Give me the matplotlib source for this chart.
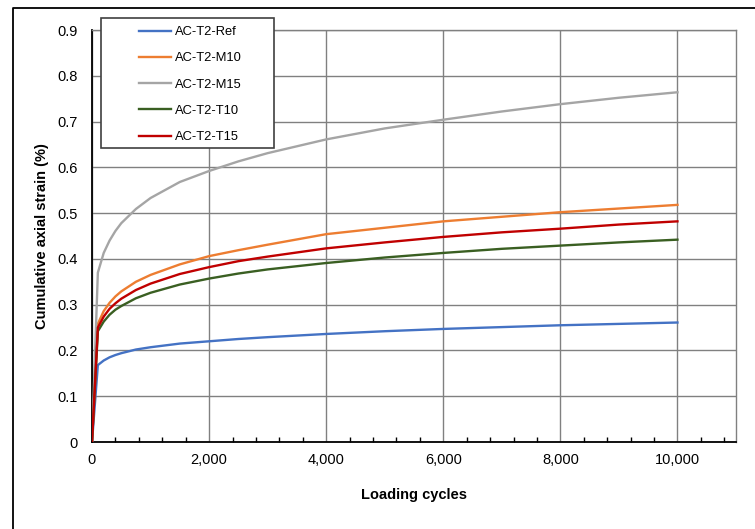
import matplotlib
matplotlib.use("Agg")
import matplotlib.pyplot as plt
from matplotlib.lines import Line2D
from matplotlib.patches import Rectangle
from matplotlib.ticker import MultipleLocator, FuncFormatter

plt.rcParams['font.family'] = ['Liberation Sans', 'DejaVu Sans']

cycles = [0, 100, 200, 300, 400, 500, 750, 1000, 1500, 2000, 2500, 3000, 4000,
          5000, 6000, 7000, 8000, 9000, 10000]

ref = [0, 0.168, 0.178, 0.185, 0.190, 0.194, 0.202, 0.207, 0.215, 0.220, 0.225,
       0.229, 0.236, 0.242, 0.247, 0.251, 0.255, 0.258, 0.261]
m10 = [0, 0.258, 0.286, 0.304, 0.318, 0.329, 0.350, 0.365, 0.388, 0.406, 0.419,
       0.431, 0.454, 0.468, 0.482, 0.492, 0.502, 0.510, 0.518]
m15 = [0, 0.370, 0.413, 0.440, 0.461, 0.478, 0.509, 0.533, 0.568, 0.592, 0.613,
       0.631, 0.661, 0.685, 0.704, 0.722, 0.738, 0.752, 0.764]
t10 = [0, 0.242, 0.263, 0.278, 0.289, 0.297, 0.314, 0.326, 0.344, 0.357, 0.368,
       0.377, 0.391, 0.403, 0.413, 0.422, 0.429, 0.436, 0.442]
t15 = [0, 0.250, 0.274, 0.291, 0.303, 0.313, 0.332, 0.346, 0.367, 0.382, 0.395,
       0.405, 0.423, 0.436, 0.448, 0.458, 0.466, 0.475, 0.482]

labels = ['AC-T2-Ref', 'AC-T2-M10', 'AC-T2-M15', 'AC-T2-T10', 'AC-T2-T15']
colors = ['#4472C4', '#ED7D31', '#A5A5A5', '#3A5F22', '#C00000']
series = [ref, m10, m15, t10, t15]

W, H = 755, 529
fig = plt.figure(figsize=(W / 100, H / 100), dpi=100)
ax = fig.add_axes([92 / W, 1 - 442 / H, (736 - 92) / W, (442 - 30) / H])

handles = []
for s, c, lab in zip(series, colors, labels):
    ln, = ax.plot(cycles, s, color=c, lw=1.7, label=lab, zorder=3)
    handles.append(ln)

ax.set_xlim(0, 11000)
ax.set_ylim(0, 0.9)
ax.xaxis.set_major_locator(MultipleLocator(2000))
ax.xaxis.set_minor_locator(MultipleLocator(400))
ax.yaxis.set_major_locator(MultipleLocator(0.1))
ax.xaxis.set_major_formatter(FuncFormatter(lambda v, p: f"{int(v):,}"))
ax.yaxis.set_major_formatter(FuncFormatter(lambda v, p: "0" if v == 0 else f"{v:.1f}"))

ax.grid(True, which='major', color='#808080', lw=1.0)
ax.set_axisbelow(True)
ax.tick_params(axis='both', which='major', length=0, labelsize=10.5)
ax.tick_params(axis='x', which='major', pad=8)
ax.tick_params(axis='y', which='major', pad=10)
ax.tick_params(axis='x', which='minor', direction='in', length=3.5, width=1, color='black')
ax.tick_params(axis='y', which='minor', length=0)

for side in ['left', 'bottom']:
    ax.spines[side].set_color('black')
    ax.spines[side].set_linewidth(1.3)
for side in ['top', 'right']:
    ax.spines[side].set_color('#808080')
    ax.spines[side].set_linewidth(1.0)

ax.set_xlabel('Loading cycles', fontsize=10.5, fontweight='bold', labelpad=15)
ax.set_ylabel('Cumulative axial strain (%)', fontsize=10.5, fontweight='bold', labelpad=6)

# legend box drawn by hand (Excel style padding)
box = Rectangle((101 / W, 1 - 148 / H), (274 - 101) / W, (148 - 18) / H,
                transform=fig.transFigure, facecolor='white',
                edgecolor='#404040', lw=1.2, zorder=2)
fig.add_artist(box)
leg = fig.legend(handles=handles, loc='upper left',
                 bbox_to_anchor=(139 / W, 1 - 26 / H), frameon=False,
                 borderpad=0, borderaxespad=0, fontsize=9.3,
                 handlelength=2.45, handletextpad=0.3, labelspacing=1.1)
leg.set_zorder(5)

# outer figure frame
fig.add_artist(Line2D([13 / W, 13 / W, 1], [0, 1 - 8 / H, 1 - 8 / H],
                      transform=fig.transFigure, color='black', lw=1.3))

fig.savefig('out.png', dpi=100)
